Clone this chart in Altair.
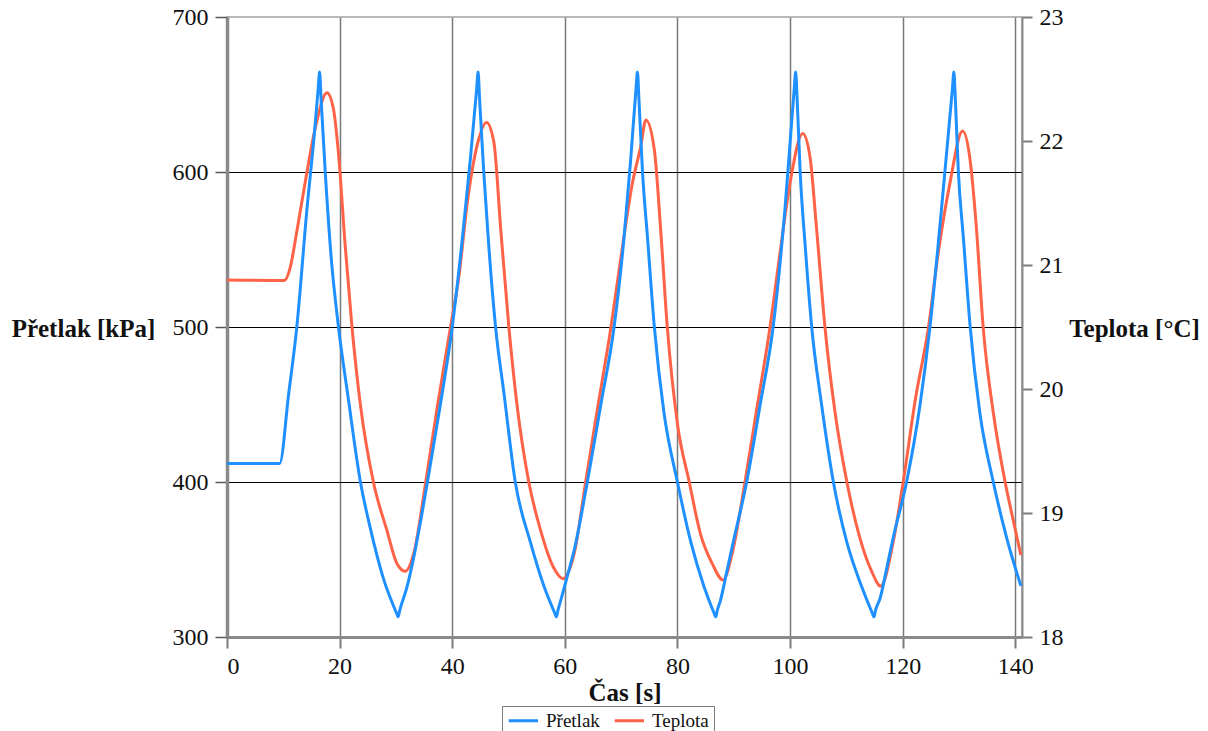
import altair as alt
import pandas as pd

# Pressure series (Přetlak, kPa)
p_time = [0, 9.35, 10.95, 12.4, 14.2, 15.5, 16.2, 16.45, 16.7, 17.45, 18.5, 19.8, 21.5, 23.7,
          25.4, 27.8, 30.1, 30.4, 30.7, 31.95, 33.2, 34.4, 35.6, 37.9, 40.0, 41.8, 43.25, 44.35,
          44.6, 44.85, 45.6, 46.5, 47.7, 49.2, 51.2, 53.9, 56.3, 58.2, 58.5, 58.8, 59.3, 60.5,
          61.7, 64.0, 66.4, 68.75, 70.5, 71.7, 72.65, 72.9, 73.15, 73.8, 74.7, 75.9, 77.6, 80.0,
          82.4, 84.7, 86.5, 86.8, 87.1, 87.6, 88.7, 89.9, 92.3, 94.7, 97.0, 99.1, 100.75, 101.0,
          101.25, 101.8, 102.7, 103.85, 105.6, 107.7, 110.1, 112.7, 114.6, 114.9, 115.2, 116.0,
          117.1, 118.3, 120.7, 123.1, 124.85, 126.9, 128.85, 129.1, 129.35, 129.9, 130.8, 132.0,
          133.7, 136.1, 138.5, 141.0]
p_value = [412, 412, 456.8, 500, 576, 624, 654, 664.5, 648, 600, 545, 500, 455, 400,
           371, 337.5, 315.5, 313, 317.5, 332, 352, 375, 400, 450, 500, 557, 609.5, 654,
           664.5, 648, 600, 552, 500, 457, 400, 361, 332.7, 315.5, 313, 317.5, 324, 340,
           356.6, 400, 450, 500, 557, 608, 654, 664.5, 648, 600, 557, 500, 445, 400,
           361, 332.7, 315.5, 313, 317.5, 323, 341, 361, 400, 450, 500, 576, 654, 664.5,
           648, 600, 552, 500, 450, 400, 361, 332.7, 315.5, 313, 317.5, 325,
           343, 363.7, 400, 450, 500, 576, 654, 664.5, 648, 600, 557, 500,
           445, 400, 363.7, 333]

# Temperature series (Teplota, °C)
t_time = [0, 10.2, 11.2, 12.4, 14.2, 15.7, 17.75, 18.9, 19.8, 21.0, 22.2, 23.7, 26.0, 28.4,
          30.2, 31.65, 33.2, 35.3, 37.3, 39.7, 41.2, 42.7, 44.4, 46.1, 47.4, 48.6, 50.06, 51.5,
          53.6, 55.7, 58.0, 59.7, 61.7, 63.7, 65.8, 68.2, 69.9, 72.0, 73.5, 74.4, 75.9, 77.0,
          78.2, 80.0, 82.1, 84.1, 86.2, 88.1, 89.9, 92.0, 94.1, 96.45, 98.2, 100.0, 102.25,
          103.55, 104.7, 106.2, 108.0, 110.1, 112.4, 114.5, 116.1, 118.3, 120.1, 122.2, 124.6,
          126.3, 128.4, 130.65, 132.0, 133.1, 134.3, 136.1, 138.2, 139.6, 141.0]
t_value = [20.88, 20.875, 20.975, 21.27, 21.75, 22.11, 22.39, 22.26, 21.9, 21.15, 20.5, 19.87, 19.25, 18.86,
           18.59, 18.53, 18.68, 19.25, 19.84, 20.5, 20.91, 21.51, 21.96, 22.15, 21.99, 21.3, 20.5, 19.875,
           19.25, 18.86, 18.56, 18.47, 18.68, 19.25, 19.84, 20.5, 21.04, 21.66, 21.96, 22.17, 21.93, 21.3,
           20.5, 19.72, 19.25, 18.83, 18.59, 18.46, 18.71, 19.25, 19.84, 20.5, 21.09, 21.66, 22.06,
           21.87, 21.3, 20.5, 19.81, 19.25, 18.8, 18.53, 18.41, 18.76, 19.25, 19.9, 20.5,
           21.09, 21.66, 22.08, 21.84, 21.3, 20.5, 19.81, 19.25, 18.95, 18.66]

series_names = ["Přetlak", "Teplota"]
series_colors = ["#1E90FF", "#FF6347"]
left_ticks = [300, 400, 500, 600, 700]
right_ticks = [18, 19, 20, 21, 22, 23]
x_ticks = [0, 20, 40, 60, 80, 100, 120, 140]

df_p = pd.DataFrame({"t": p_time, "v": p_value, "s": series_names[0]})
df_t = pd.DataFrame({"t": t_time, "v": t_value, "s": series_names[1]})

FONT = "Liberation Serif"

color = alt.Color(
    "s:N",
    scale=alt.Scale(domain=series_names, range=series_colors),
    legend=alt.Legend(
        title=None, orient="none", legendX=275, legendY=689, direction="horizontal",
        symbolType="M-1.55,0H4.3", symbolSize=100, symbolStrokeWidth=3,
        labelFont=FONT, labelFontSize=19, labelColor="#111111", labelOffset=20,
        columnPadding=8, padding=5, strokeColor="#7a7a7a", fillColor="white",
    ),
)

x_enc = alt.X(
    "t:Q",
    scale=alt.Scale(domain=[0, 141.2], nice=False, zero=False),
    axis=alt.Axis(
        values=x_ticks, format="d", title="Čas [s]",
        grid=True, gridColor="#7a7a7a", gridWidth=1.5,
        domainColor="#8a8a8a", domainWidth=3,
        tickColor="#7a7a7a", tickWidth=2, tickSize=11,
        labelFont=FONT, labelFontSize=24, labelColor="#111111", labelPadding=6,
        titleFont=FONT, titleFontSize=25, titleFontWeight="bold", titleColor="#111111",
        titleBaseline="alphabetic", titleY=63,
    ),
)

line_t = alt.Chart(df_t).mark_line(strokeWidth=3, interpolate="monotone").encode(
    x=x_enc,
    y=alt.Y(
        "v:Q",
        scale=alt.Scale(domain=[18, 23], nice=False, zero=False),
        axis=alt.Axis(
            orient="right", values=right_ticks, format="d", title="Teplota [°C]", grid=False,
            domainColor="#8a8a8a", domainWidth=2,
            tickColor="#7a7a7a", tickWidth=2, tickSize=10,
            labelFont=FONT, labelFontSize=24, labelColor="#111111", labelPadding=7,
            titleFont=FONT, titleFontSize=25, titleFontWeight="bold", titleColor="#111111",
            titleAngle=0, titleAlign="center", titleBaseline="alphabetic", titleX=112, titleY=319,
        ),
    ),
    color=color,
)

line_p = alt.Chart(df_p).mark_line(strokeWidth=3, interpolate="monotone").encode(
    x=x_enc,
    y=alt.Y(
        "v:Q",
        scale=alt.Scale(domain=[300, 700], nice=False, zero=False),
        axis=alt.Axis(
            orient="left", values=left_ticks, format="d", title="Přetlak [kPa]",
            grid=True, gridColor="black", gridWidth=1,
            gridOpacity={"condition": {"test": "datum.value == 700 || datum.value == 300", "value": 0}, "value": 1},
            domainColor="#8a8a8a", domainWidth=3.5,
            tickColor="#555555", tickWidth=1.5, tickSize=12,
            labelFont=FONT, labelFontSize=24, labelColor="#111111", labelPadding=7,
            titleFont=FONT, titleFontSize=25, titleFontWeight="bold", titleColor="#111111",
            titleAngle=0, titleAlign="center", titleBaseline="alphabetic", titleX=-144, titleY=319,
        ),
    ),
    color=color,
)

chart = (
    alt.layer(line_t, line_p)
    .resolve_scale(y="independent")
    .properties(
        width=795, height=620,
        autosize=alt.AutoSizeParams(type="none"),
        padding={"left": 227, "top": 17, "right": 186, "bottom": 94},
        background="white",
    )
    .configure_view(stroke="#b8b8b8", strokeWidth=2)
)

chart.save("out.html", embed_options={"renderer": "svg", "actions": False})
